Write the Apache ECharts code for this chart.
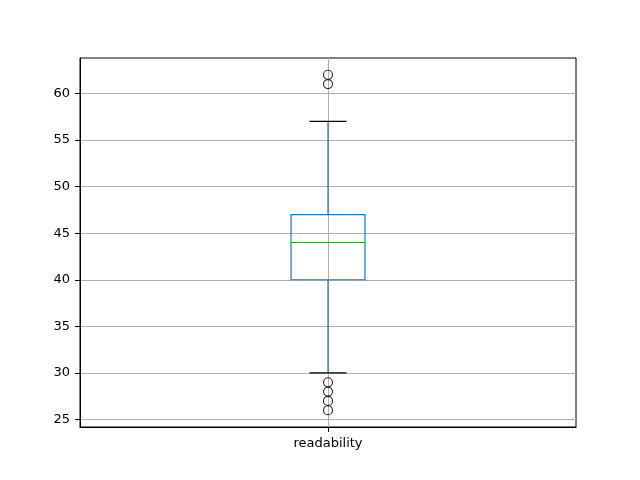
<!DOCTYPE html>
<html><head><meta charset="utf-8">
<script src="https://cdn.jsdelivr.net/npm/echarts@6/dist/echarts.min.js"></script>
<style>html,body{margin:0;padding:0;background:#fff}#c{width:640px;height:480px}</style>
</head><body><div id="c"></div>
<script>
const categories = ['readability'];
// [lower whisker, Q1, median, Q3, upper whisker]
const boxStats = [[30, 40, 44, 47, 57]];
const outliers = [62, 61, 29, 28, 27, 26];
const yTicks = [25, 30, 35, 40, 45, 50, 55, 60];

const chart = echarts.init(document.getElementById('c'), null, {renderer: 'canvas'});
const boxData = boxStats.map((s, i) => [i + 1].concat(s));
const outData = outliers.map(v => [1, v]);
const font = {fontFamily: 'DejaVu Sans', fontSize: 13, color: '#000'};

chart.setOption({
  animation: false,
  grid: {left: 80, right: 64, top: 58, bottom: 53, show: true, borderColor: '#000', borderWidth: 1, backgroundColor: 'transparent'},
  xAxis: {
    type: 'value', min: 0, max: 2, interval: 1,
    axisLine: {show: true, lineStyle: {color: '#000'}},
    axisTick: {show: true, length: 5, lineStyle: {color: '#000'}, customValues: [1]},
    axisLabel: Object.assign({margin: 10, customValues: [1], formatter: v => v === 1 ? categories[0] : ''}, font),
    splitLine: {show: true, lineStyle: {color: '#b0b0b0', width: 1}}
  },
  yAxis: {
    type: 'value', min: 24.2, max: 63.8,
    axisLine: {show: true, lineStyle: {color: '#000'}},
    axisTick: {show: true, length: 5, lineStyle: {color: '#000'}, customValues: yTicks},
    axisLabel: Object.assign({margin: 10, customValues: yTicks}, font),
    splitLine: {show: true, lineStyle: {color: '#b0b0b0', width: 1}}
  },
  series: [
    {
      type: 'custom',
      data: boxData,
      encode: {x: 0, y: [1, 2, 3, 4, 5]},
      renderItem: function (params, api) {
        const x = api.value(0);
        const lo = api.coord([x, api.value(1)]);
        const q1 = api.coord([x, api.value(2)]);
        const md = api.coord([x, api.value(3)]);
        const q3 = api.coord([x, api.value(4)]);
        const hi = api.coord([x, api.value(5)]);
        const bw = api.size([0.298, 0])[0];
        const cw = bw / 2;
        const cx = lo[0];
        const blue = '#1f77b4';
        return {
          type: 'group',
          children: [
            {type: 'line', shape: {x1: cx, y1: q1[1], x2: cx, y2: lo[1]}, style: {stroke: blue, lineWidth: 1.2}},
            {type: 'line', shape: {x1: cx, y1: q3[1], x2: cx, y2: hi[1]}, style: {stroke: blue, lineWidth: 1.2}},
            {type: 'line', shape: {x1: cx - cw / 2, y1: lo[1], x2: cx + cw / 2, y2: lo[1]}, style: {stroke: '#000', lineWidth: 1.2}},
            {type: 'line', shape: {x1: cx - cw / 2, y1: hi[1], x2: cx + cw / 2, y2: hi[1]}, style: {stroke: '#000', lineWidth: 1.2}},
            {type: 'rect', shape: {x: cx - bw / 2, y: q3[1], width: bw, height: q1[1] - q3[1]}, style: {fill: 'none', stroke: blue, lineWidth: 1.2}},
            {type: 'line', shape: {x1: cx - bw / 2, y1: md[1], x2: cx + bw / 2, y2: md[1]}, style: {stroke: '#2ca02c', lineWidth: 1.2}}
          ]
        };
      },
      z: 3
    },
    {
      type: 'scatter',
      data: outData,
      symbol: 'circle',
      symbolSize: 9,
      itemStyle: {color: 'rgba(0,0,0,0)', borderColor: '#000', borderWidth: 1.2},
      z: 4
    }
  ]
});
</script>
</body></html>
